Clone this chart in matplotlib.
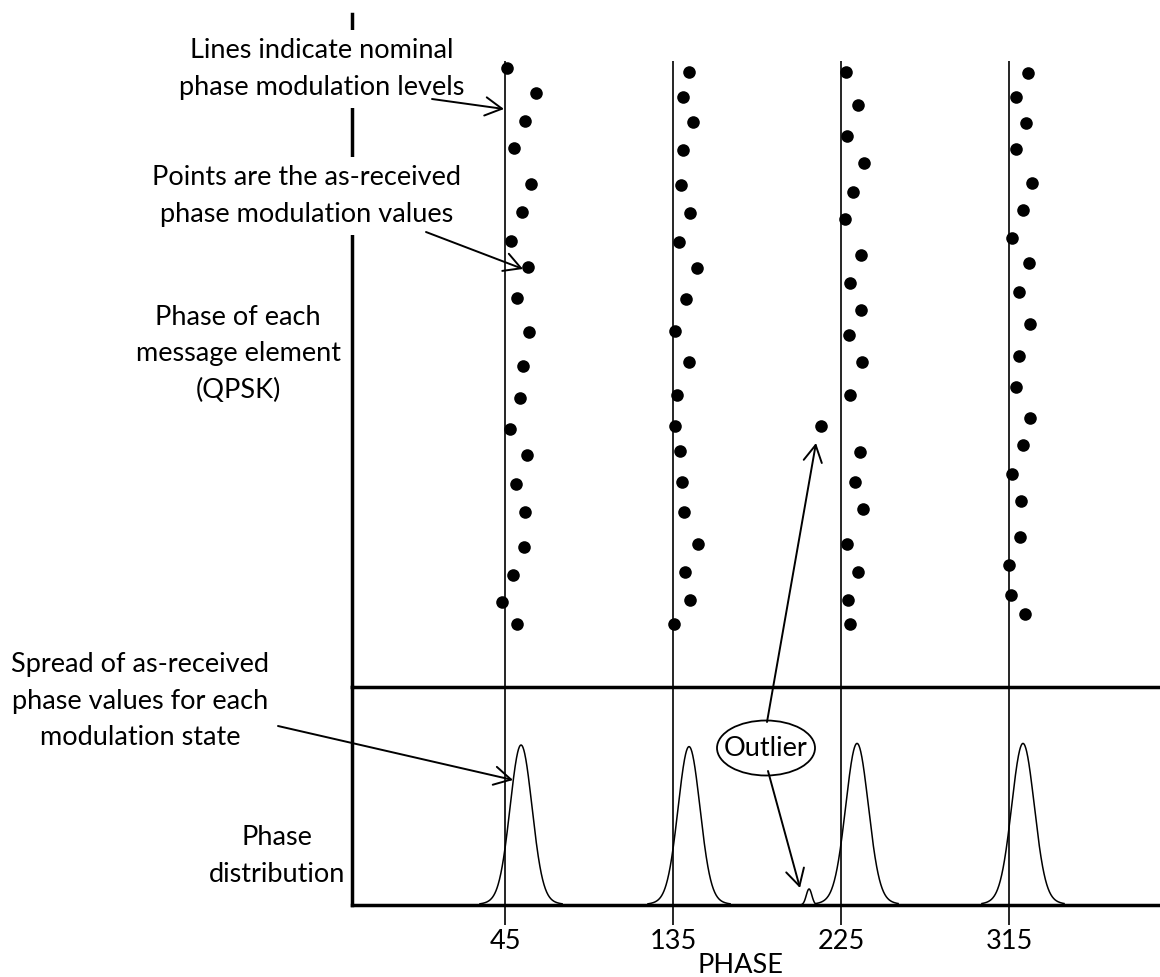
import numpy as np
import matplotlib
matplotlib.use("Agg")
import matplotlib.pyplot as plt
from matplotlib.patches import Ellipse, FancyArrowPatch

plt.rcParams['font.family'] = ['Lato', 'DejaVu Sans']

# ---------------- data ----------------
nominal_phases = [45, 135, 225, 315]
tick_labels = ["45", "135", "225", "315"]

# as-received phases (deg) and sequence positions (top = first element)
col45_phase = [45.9, 61.6, 55.7, 49.8, 58.8, 54.1, 48.2, 57.5, 51.6, 57.9,
               54.8, 53.2, 47.7, 57.0, 50.9, 55.9, 55.0, 49.3, 43.6, 51.6]
col45_pos = [68, 93, 121, 148, 184, 212, 241, 267, 298, 332,
             366, 398, 429, 455, 484, 512, 547, 575, 602, 624]

col135_phase = [143.7, 140.2, 145.9, 140.2, 139.3, 144.3, 138.4, 147.7, 142.0, 136.2,
                143.4, 137.1, 136.2, 138.6, 139.8, 141.1, 148.2, 141.3, 144.1, 135.4]
col135_pos = [72, 97, 122, 150, 185, 213, 242, 268, 299, 331,
              362, 395, 426, 451, 482, 512, 544, 572, 600, 624]

col225_phase = [227.8, 234.1, 228.2, 237.5, 231.4, 227.0, 235.9, 230.0, 235.6, 229.3,
                236.1, 230.0, 235.0, 232.5, 236.9, 228.2, 233.9, 228.6, 230.0]
col225_pos = [72, 105, 136, 163, 192, 219, 255, 283, 310, 335,
              362, 395, 452, 482, 509, 544, 572, 600, 624]

col315_phase = [325.2, 318.8, 324.1, 318.6, 327.2, 322.7, 316.8, 325.9, 320.4, 326.25,
                320.5, 318.9, 326.4, 322.5, 316.6, 321.6, 320.7, 315.2, 316.2, 323.6]
col315_pos = [73, 97, 123, 149, 183, 210, 238, 263, 292, 324,
              356, 387, 418, 445, 474, 501, 537, 565, 595, 614]

outlier_phase = [214.4]
outlier_pos = [426]

# phase distribution peaks: centre (deg), relative height, core width, tail width (deg)
peak_centre = [53.6, 143.6, 233.6, 322.5]
peak_height = [1.00, 0.99, 1.01, 1.01]
peak_sigma = [5.8, 5.8, 6.0, 6.0]
tail_sigma = [11.0, 11.0, 11.5, 11.5]
tail_fraction = [0.05, 0.05, 0.05, 0.05]
outlier_peak_centre = 207.9
outlier_peak_height = 0.10
outlier_peak_sigma = 1.5

# ---------------- figure ----------------
W, H = 1160, 977
fig = plt.figure(figsize=(W / 100, H / 100), dpi=100)

def fpos(x, y):
    return (x / W, 1 - y / H)

XL = (-36.96, 395.9)
left_px, right_px = 352, 1160
top_px, mid_px, bot_px = 14, 687, 905

ax_top = fig.add_axes([left_px / W, 1 - mid_px / H, (right_px - left_px) / W, (mid_px - top_px) / H])
ax_bot = fig.add_axes([left_px / W, 1 - bot_px / H, (right_px - left_px) / W, (bot_px - mid_px) / H])
for ax in (ax_top, ax_bot):
    ax.set_facecolor('none')
    ax.set_xlim(*XL)

SPW = 2.5
# top panel
ax_top.set_ylim(mid_px, top_px)
for s in ['top', 'right', 'bottom']:
    ax_top.spines[s].set_visible(False)
ax_top.spines['left'].set_linewidth(SPW)
ax_top.set_xticks([])
ax_top.set_yticks([])

ax_top.vlines(nominal_phases, 61, mid_px, colors='black', lw=1.2, zorder=2)
for ph, pos in [(col45_phase, col45_pos), (col135_phase, col135_pos),
                (col225_phase, col225_pos), (col315_phase, col315_pos),
                (outlier_phase, outlier_pos)]:
    ax_top.scatter(ph, pos, s=82, color='black', zorder=3, linewidths=0)

# bottom panel
ymax = (bot_px - mid_px) / 160.0
ax_bot.set_ylim(0, ymax)
ax_bot.spines['right'].set_visible(False)
for s in ['left', 'top', 'bottom']:
    ax_bot.spines[s].set_linewidth(SPW)
ax_bot.set_yticks([])
for p in nominal_phases:
    ax_bot.axvline(p, color='black', lw=1.2, zorder=2)
FS = 19.5
ax_bot.set_xticks(nominal_phases)
ax_bot.set_xticklabels(tick_labels, fontsize=FS)
ax_bot.tick_params(axis='x', length=14.4, width=1.2, direction='out', pad=3)

for c, h, sg, ts, tf in zip(peak_centre, peak_height, peak_sigma, tail_sigma, tail_fraction):
    xx = np.linspace(c - 22, c + 22, 300)
    yy = h * ((1 - tf) * np.exp(-0.5 * ((xx - c) / sg) ** 2) + tf * np.exp(-0.5 * ((xx - c) / ts) ** 2))
    ax_bot.plot(xx, yy, color='black', lw=1.1, zorder=3)
xx = np.linspace(outlier_peak_centre - 5, outlier_peak_centre + 5, 120)
ax_bot.plot(xx, outlier_peak_height * np.exp(-0.5 * ((xx - outlier_peak_centre) / outlier_peak_sigma) ** 2),
            color='black', lw=1.1, zorder=3)

ax_bot.set_xlabel("PHASE", fontsize=FS)
ax_bot.xaxis.set_label_coords((740 - left_px) / (right_px - left_px), (bot_px - 953) / (bot_px - mid_px))

# ---------------- annotations ----------------
LS = 1.57
box = dict(boxstyle='square,pad=0.3', fc='white', ec='none')
fig.text(*fpos(322, 69), "Lines indicate nominal\nphase modulation levels", ha='center', va='center',
         fontsize=FS, linespacing=LS, bbox=box, zorder=3)
fig.text(*fpos(307, 196), "Points are the as-received\nphase modulation values", ha='center', va='center',
         fontsize=FS, linespacing=LS, bbox=box, zorder=3)
fig.text(*fpos(238, 354), "Phase of each\nmessage element\n(QPSK)", ha='center', va='center',
         fontsize=FS, linespacing=LS, zorder=3)
fig.text(*fpos(140, 701), "Spread of as-received\nphase values for each\nmodulation state", ha='center', va='center',
         fontsize=FS, linespacing=LS, zorder=3)
fig.text(*fpos(277, 856), "Phase\ndistribution", ha='center', va='center',
         fontsize=FS, linespacing=LS, zorder=3)

fig.add_artist(Ellipse(fpos(766, 748), 98 / W, 55 / H, transform=fig.transFigure,
                       fc='white', ec='black', lw=1.3, zorder=4))
fig.text(*fpos(766, 748), "Outlier", ha='center', va='center', fontsize=FS, zorder=5)

arrows = [((432, 99), (504, 109)),
          ((426, 232), (523, 269)),
          ((278, 726), (513, 780)),
          ((767, 722), (816, 443)),
          ((768, 771), (800, 888))]
for (xa, ya), (xb, yb) in arrows:
    fig.add_artist(FancyArrowPatch(fpos(xa, ya), fpos(xb, yb), transform=fig.transFigure,
                                   arrowstyle='->,head_length=0.6,head_width=0.33',
                                   mutation_scale=20, lw=1.4, color='black',
                                   shrinkA=0, shrinkB=0, zorder=6))

fig.savefig("out.png", dpi=100)
